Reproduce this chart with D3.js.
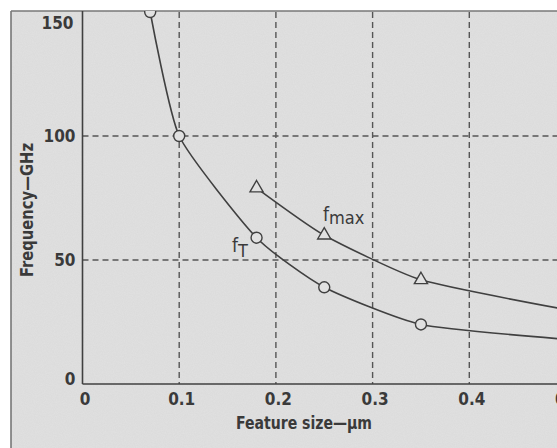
<!DOCTYPE html>
<html><head><meta charset="utf-8">
<script src="https://cdn.jsdelivr.net/npm/d3@7"></script>
<style>
html,body{margin:0;padding:0;background:#fff;}
svg{display:block;}
.lbl{font-family:"Liberation Sans Narrow","DejaVu Sans Condensed","Roboto Condensed",sans-serif;font-weight:bold;fill:#3a3a3a;}
</style></head>
<body>
<svg id="c" width="557" height="448"></svg>
<script>
// ---- data ----
const xTicks = [0, 0.1, 0.2, 0.3, 0.4, 0.5];
const yTicks = [0, 50, 100, 150];
const fT_size = [0.07, 0.1, 0.18, 0.25, 0.35, 0.5];
const fT_freq = [150, 100, 59, 39, 24, 18];
const fmax_size = [0.18, 0.25, 0.35, 0.5];
const fmax_freq = [79, 60, 42, 30];

const svg = d3.select("#c");
const W = 557, H = 448;
const ink = "#404040";
const bg = "#e1e1e1";

// noise filter for paper look
const defs = svg.append("defs");
const f = defs.append("filter").attr("id","noise").attr("x",0).attr("y",0).attr("width","100%").attr("height","100%");
f.append("feTurbulence").attr("type","fractalNoise").attr("baseFrequency",0.9).attr("numOctaves",2).attr("seed",3).attr("result","t");
f.append("feColorMatrix").attr("in","t").attr("type","matrix")
 .attr("values","0 0 0 0 0.5  0 0 0 0 0.5  0 0 0 0 0.5  0 0 0 0.18 0").attr("result","n");
f.append("feComposite").attr("in","n").attr("in2","SourceGraphic").attr("operator","in");

// panel background
svg.append("rect").attr("x",11).attr("y",11).attr("width",W).attr("height",H).attr("fill",bg);
svg.append("rect").attr("x",11).attr("y",11).attr("width",W).attr("height",H).attr("fill",bg).attr("filter","url(#noise)");
// frame
svg.append("line").attr("x1",11).attr("y1",11).attr("x2",11).attr("y2",H).attr("stroke","#777").attr("stroke-width",1.6);
svg.append("line").attr("x1",11).attr("y1",11).attr("x2",W).attr("y2",11).attr("stroke","#777").attr("stroke-width",1.6);

const x = d3.scaleLinear().domain([0,0.5]).range([82.5,566]);
const y = d3.scaleLinear().domain([0,150]).range([384,12]);

defs.append("clipPath").attr("id","plot").append("rect").attr("x",83).attr("y",11).attr("width",W).attr("height",373);

// grid
const g = svg.append("g").attr("clip-path","url(#plot)");
g.selectAll(".vg").data(xTicks.filter(d=>d>0)).join("line")
 .attr("x1",d=>x(d)).attr("x2",d=>x(d)).attr("y1",y(150)).attr("y2",y(0))
 .attr("stroke","#555").attr("stroke-width",1.4).attr("stroke-dasharray","6,4");
g.selectAll(".hg").data(yTicks.filter(d=>d>0 && d<150)).join("line")
 .attr("x1",x(0)).attr("x2",W).attr("y1",d=>y(d)).attr("y2",d=>y(d))
 .attr("stroke","#555").attr("stroke-width",1.4).attr("stroke-dasharray","6,4");

// axes
const xa = svg.append("g").attr("transform",`translate(0,${y(0)})`)
 .call(d3.axisBottom(x).tickValues(xTicks).tickSize(0).tickPadding(0).tickFormat(d=>d===0?"0":d3.format(".1f")(d)));
xa.select(".domain").remove();
xa.append("line").attr("x1",x(0)).attr("x2",W).attr("y1",0).attr("y2",0).attr("stroke",ink).attr("stroke-width",1.6);
xa.selectAll("text").attr("class","lbl").attr("font-size",17).attr("dy",null).attr("y",21).attr("dx",2);

const ya = svg.append("g").attr("transform",`translate(${x(0)},0)`)
 .call(d3.axisLeft(y).tickValues(yTicks).tickSize(0).tickPadding(7));
ya.select(".domain").remove();
ya.append("line").attr("x1",0).attr("x2",0).attr("y1",11).attr("y2",y(0)).attr("stroke",ink).attr("stroke-width",1.6);
ya.selectAll("text").attr("class","lbl").attr("font-size",17)
 .attr("dy",d=>d===150?"0.95em":(d===0?"0.05em":"0.35em"))
 .attr("dx",d=>d===150?-2:0);

// curves
const line = d3.line().x(d=>x(d[0])).y(d=>y(d[1])).curve(d3.curveCardinal.tension(0.45));
const fT = fT_size.map((s,i)=>[s,fT_freq[i]]);
const fm = fmax_size.map((s,i)=>[s,fmax_freq[i]]);
const p = svg.append("g").attr("clip-path","url(#plot)");
p.append("path").datum(fT).attr("d",line).attr("fill","none").attr("stroke",ink).attr("stroke-width",1.6);
p.append("path").datum(fm).attr("d",line).attr("fill","none").attr("stroke",ink).attr("stroke-width",1.6);
p.selectAll(".c").data(fT).join("circle").attr("cx",d=>x(d[0])).attr("cy",d=>y(d[1])).attr("r",5.5)
 .attr("fill",bg).attr("stroke",ink).attr("stroke-width",1.4);
const tri = d3.symbol().type(d3.symbolTriangle).size(75);
p.selectAll(".t").data(fm).join("path").attr("d",tri)
 .attr("transform",d=>`translate(${x(d[0])},${y(d[1])})`)
 .attr("fill",bg).attr("stroke",ink).attr("stroke-width",1.4);

// series labels
const l1 = svg.append("text").attr("class","lbl").attr("x",232).attr("y",252).attr("font-size",19).style("font-weight","normal");
l1.append("tspan").text("f");
l1.append("tspan").attr("dy",5).attr("font-size",18).text("T");
const l2 = svg.append("text").attr("class","lbl").attr("x",323).attr("y",221).attr("font-size",19).style("font-weight","normal");
l2.append("tspan").text("f");
l2.append("tspan").attr("dy",3).attr("font-size",18).text("max");

// axis titles
svg.append("text").attr("class","lbl").attr("x",304).attr("y",429).attr("text-anchor","middle").attr("font-size",18)
 .attr("textLength",136).attr("lengthAdjust","spacingAndGlyphs")
 .text("Feature size\u2014\u03bcm");
svg.append("text").attr("class","lbl").attr("transform","translate(33,210) rotate(-90)").attr("text-anchor","middle").attr("font-size",18)
 .attr("textLength",134).attr("lengthAdjust","spacingAndGlyphs")
 .text("Frequency\u2014GHz");
</script>
</body></html>
